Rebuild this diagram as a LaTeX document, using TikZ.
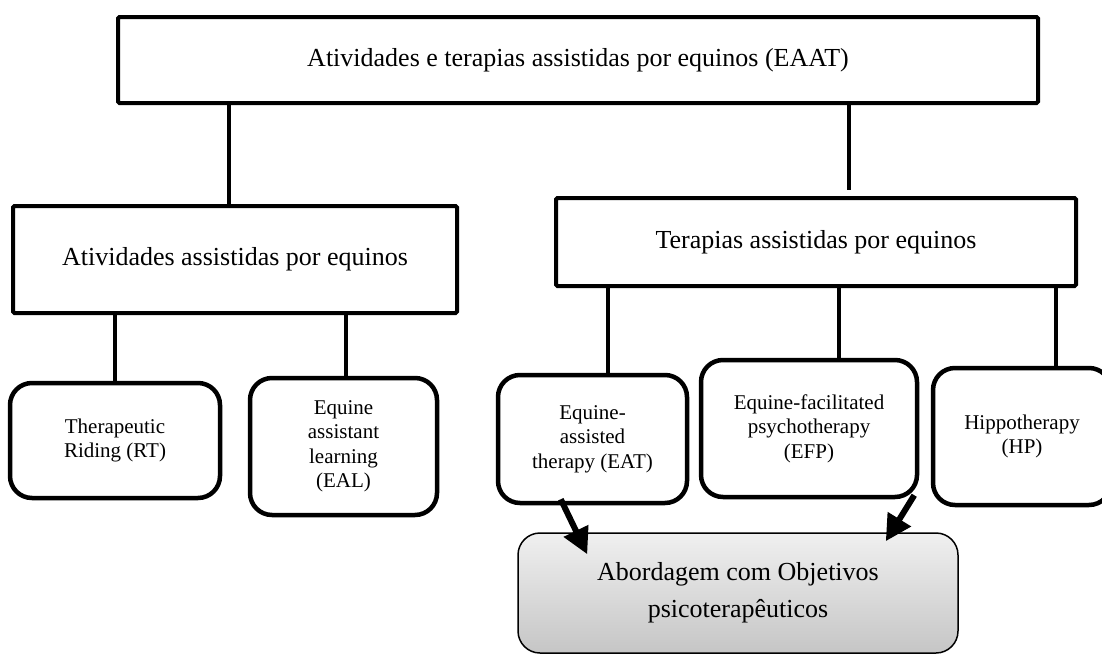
\documentclass[tikz,border=0pt]{standalone}
\usepackage{fontspec}
\setmainfont{Liberation Serif}
\usetikzlibrary{arrows.meta}

\begin{document}
\begin{tikzpicture}[x=1pt, y=-1pt,
		bigbox/.style={draw, line width=4pt, rounded corners=1.5pt, inner sep=0pt, align=center, font=\fontsize{26}{34}\selectfont},
		smallbox/.style={draw, line width=4.5pt, rounded corners=22pt, inner sep=0pt, align=center, font=\fontsize{21}{24.5}\selectfont},
		goalbox/.style={draw, line width=1.5pt, rounded corners=22pt, inner sep=0pt, align=center, top color=gray!12, bottom color=gray!45, font=\fontsize{26}{37}\selectfont},
		link/.style={line width=4pt},
		bigarrow/.style={line width=6pt, -{Triangle[length=26pt,width=26pt]}}]
		
		\useasboundingbox (0,0) rectangle (1102,653);
		\clip (0,0) rectangle (1102,653);
		
		% Draw the boxes
		\node[bigbox, minimum width=920pt, minimum height=86pt] (eaat) at (578,60) {Atividades e terapias assistidas por equinos (EAAT)};
		\node[bigbox, minimum width=444pt, minimum height=107pt] (aae) at (235,259.5) {Atividades assistidas por equinos};
		\node[bigbox, minimum width=520pt, minimum height=88pt] (tae) at (816,242) {Terapias assistidas por equinos};
		
		% The rounded boxes below
		\node[smallbox, minimum width=210pt, minimum height=115pt] (rt) at (115,440.5) {Therapeutic\\Riding (RT)};
		\node[smallbox, minimum width=187pt, minimum height=137pt] (eal) at (343.5,446.5) {Equine\\assistant\\learning\\(EAL)};
		\node[smallbox, minimum width=189pt, minimum height=128pt] (eat) at (592.5,439) {Equine-\\assisted\\therapy (EAT)};
		\node[smallbox, minimum width=216pt, minimum height=137pt] (efp) at (809,428.5) {Equine-facilitated\\psychotherapy\\(EFP)};
		\node[smallbox, minimum width=178pt, minimum height=137pt] (hp) at (1022,436.5) {Hippotherapy\\(HP)};
		
		\node[goalbox, minimum width=440pt, minimum height=120pt] (goal) at (738,593) {Abordagem com Objetivos\\psicoterapêuticos};
		
		% Connect the levels
		\draw[link] ([xshift=-6pt]aae.north |- eaat.south) -- ([xshift=-6pt]aae.north);
		\draw[link] ([xshift=33pt]tae.north |- eaat.south) -- ([xshift=33pt,yshift=6pt]tae.north);
		\draw[link] (rt.north |- aae.south) -- (rt.north);
		\draw[link] ([xshift=2.5pt]eal.north |- aae.south) -- ([xshift=2.5pt]eal.north);
		\draw[link] ([xshift=15.5pt]eat.north |- tae.south) -- ([xshift=15.5pt]eat.north);
		\draw[link] ([xshift=30pt]efp.north |- tae.south) -- ([xshift=30pt]efp.north);
		\draw[link] ([xshift=34pt]hp.north |- tae.south) -- ([xshift=34pt]hp.north);
		
		% Arrows to the goal
		\draw[bigarrow] ([xshift=65pt,yshift=6pt]eat.south west) -- ([xshift=70pt,yshift=-22pt]goal.north west);
		\draw[bigarrow] ([xshift=-5pt,yshift=4pt]efp.south east) -- ([xshift=-73pt,yshift=-9pt]goal.north east);
		
	\end{tikzpicture}
\end{document}
